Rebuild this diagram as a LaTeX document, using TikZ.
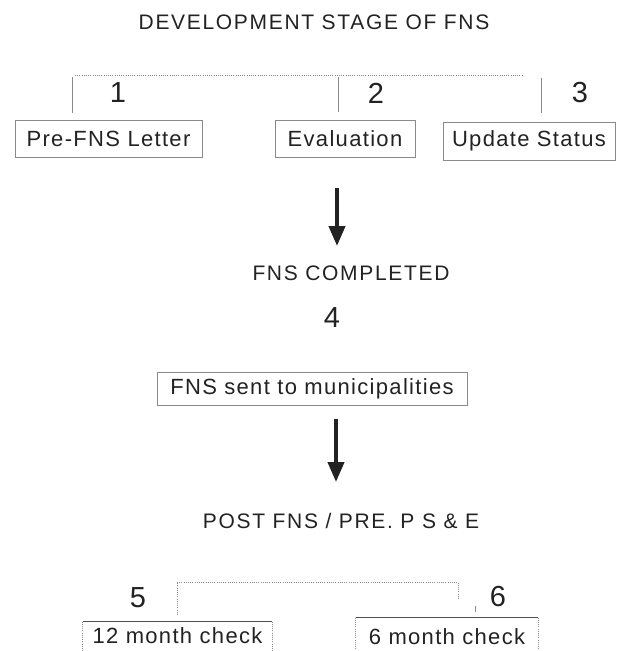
\documentclass[tikz,border=0pt]{standalone}
\usepackage{fontspec}
\setmainfont{Liberation Sans}
\newfontfamily\headfont[LetterSpace=8]{Liberation Sans}
\newfontfamily\boxfont[LetterSpace=6]{Liberation Sans}
\usepackage{xcolor}
\definecolor{DocInk}{HTML}{222222}
\definecolor{DocRule}{HTML}{8A8A8A}
\usepackage{tikz}
\usetikzlibrary{arrows.meta,calc}

\begin{document}
\begin{tikzpicture}[
  x=1pt, y=-1pt,
  heading/.style={text=DocInk, inner sep=0pt,
                  font=\headfont\fontsize{21}{25}\selectfont},
  num/.style={text=DocInk, inner sep=0pt, font=\fontsize{29}{32}\selectfont},
  box/.style={draw=DocRule, line width=0.9pt, align=center, inner sep=0pt,
              text=DocInk, font=\boxfont\fontsize{22}{26}\selectfont},
  openbox/.style={box, draw=none},
  tick/.style={draw=DocRule, line width=0.9pt},
  dotline/.style={draw=DocRule, line width=0.8pt, dash pattern=on 1pt off 1.2pt},
  arrow/.style={-{Triangle[length=20pt,width=16pt]}, draw=DocInk, line width=4pt},
]
\useasboundingbox (0,0) rectangle (624,651);
\clip (0,0) rectangle (624,651);

% development stage
\node[heading] (title) at (314,22.5) {DEVELOPMENT STAGE OF FNS};
\coordinate (bl) at (75,75);
\coordinate (br) at (522,75);
\coordinate (t1a) at (72,77);  \coordinate (t1b) at (72,113);
\coordinate (t2a) at (338,77); \coordinate (t2b) at (338,112);
\coordinate (t3a) at (541,78); \coordinate (t3b) at (541,113);
\draw[dotline] (bl) -- (br);
\draw[tick] (t1a) -- (t1b);
\draw[tick] (t2a) -- (t2b);
\draw[tick] (t3a) -- (t3b);
\node[num] (n1) at (118,93) {1};
\node[num] (n2) at (376,93) {2};
\node[num] (n3) at (580,93) {3};
\node[box, minimum width=187pt, minimum height=37pt] (letter) at (108.5,138.5)
  {Pre-FNS Letter};
\node[box, minimum width=140pt, minimum height=37pt] (eval) at (345,138.5)
  {Evaluation};
\node[box, minimum width=172pt, minimum height=38pt] (status) at (529,141)
  {Update Status};

% completed
\coordinate (a1) at (337,188);
\coordinate (a1end) at (337,246);
\draw[arrow] (a1) -- (a1end);
\node[heading] (done) at (351,273) {FNS COMPLETED};
\node[num] (n4) at (332,318) {4};
\node[box, minimum width=310pt, minimum height=33pt] (sent) at (312,388.5)
  {FNS sent to municipalities};

% post fns
\coordinate (a2) at (336,419);
\coordinate (a2end) at (336,482);
\draw[arrow] (a2) -- (a2end);
\node[heading] (post) at (341,521) {POST FNS / PRE. P S \& E};
\coordinate (cl) at (177,582);
\coordinate (cr) at (458,582);
\coordinate (cl2) at (177,615);
\coordinate (cr2) at (458,600);
\coordinate (c6a) at (475,606); \coordinate (c6b) at (475,612);
\draw[dotline] (cl2) -- (cl) -- (cr) -- (cr2);
\draw[tick, line width=0.6pt] (c6a) -- (c6b);
\node[num] (n5) at (138,598) {5};
\node[num] (n6) at (498,597) {6};
\node[openbox, minimum width=189pt, minimum height=28pt] (twelve) at (177.5,636)
  {12 month check};
\node[openbox, minimum width=182pt, minimum height=38pt] (six) at (447,637)
  {6 month check};
\draw[tick, draw=DocInk!80] (twelve.north west) -- (twelve.north east);
\draw[dotline] (twelve.north west) -- (twelve.south west);
\draw[dotline] (twelve.north east) -- (twelve.south east);
\draw[tick, draw=DocInk!80] (six.north west) -- (six.north east);
\draw[dotline] (six.north west) -- (six.south west);
\draw[dotline] (six.north east) -- (six.south east);
\end{tikzpicture}
\end{document}
